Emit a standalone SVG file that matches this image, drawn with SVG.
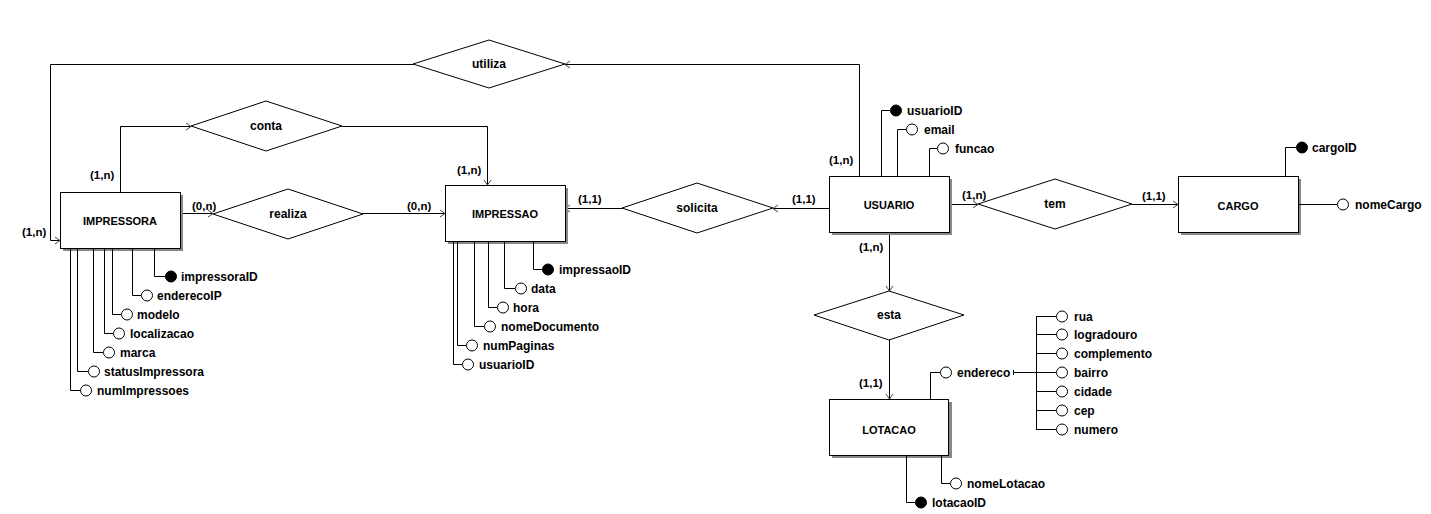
<svg xmlns="http://www.w3.org/2000/svg" width="1431" height="514" viewBox="0 0 1431 514">
<style>
text{font-family:"Liberation Sans",Arial,sans-serif;font-weight:bold;fill:#000}
.ent{font-size:11px;text-anchor:middle}
.rel{font-size:12px;text-anchor:middle}
.att{font-size:12px}
.card{font-size:11.5px}
.box{fill:#fff;stroke:#000;stroke-width:1}
.shadow{fill:#888}
.dia{fill:#fff;stroke:#000;stroke-width:1}
.ln{fill:none;stroke:#000;stroke-width:1}
.ao{fill:#fff;stroke:#000;stroke-width:1}
.ak{fill:#000;stroke:#000;stroke-width:1}
</style>
<defs>
<marker id="arr" markerUnits="userSpaceOnUse" markerWidth="10" markerHeight="10" viewBox="-6 -5 8 10" refX="0" refY="0" orient="auto">
<path d="M-5,-3.5 L0,0 L-5,3.5" fill="none" stroke="#444" stroke-width="1"/>
</marker>
</defs>
<rect width="1431" height="514" fill="#fff"/>

<g id="connectors">
<!-- utiliza -->
<polyline class="ln" points="413.5,64.5 50.5,64.5 50.5,240.5 60,240.5" marker-end="url(#arr)"/>
<polyline class="ln" points="859.5,176 859.5,64.5 565,64.5" marker-end="url(#arr)"/>
<!-- conta -->
<polyline class="ln" points="120.5,192 120.5,126.5 191,126.5" marker-end="url(#arr)"/>
<polyline class="ln" points="342,126.5 487.5,126.5 487.5,185" marker-end="url(#arr)"/>
<!-- realiza -->
<line class="ln" x1="180" y1="213.5" x2="213" y2="213.5" marker-end="url(#arr)"/>
<line class="ln" x1="363" y1="213.5" x2="445" y2="213.5" marker-end="url(#arr)"/>
<!-- solicita -->
<line class="ln" x1="829" y1="208.5" x2="773" y2="208.5" marker-end="url(#arr)"/>
<line class="ln" x1="622" y1="208.5" x2="565" y2="208.5" marker-end="url(#arr)"/>
<!-- tem -->
<line class="ln" x1="949" y1="204.5" x2="978" y2="204.5" marker-end="url(#arr)"/>
<line class="ln" x1="1132" y1="204.5" x2="1178" y2="204.5" marker-end="url(#arr)"/>
<!-- esta -->
<line class="ln" x1="889.5" y1="233" x2="889.5" y2="291" marker-end="url(#arr)"/>
<line class="ln" x1="889.5" y1="340" x2="889.5" y2="399" marker-end="url(#arr)"/>
</g>

<g id="cardinalities">
<text class="card" x="90" y="179">(1,n)</text>
<text class="card" x="22" y="236">(1,n)</text>
<text class="card" x="192" y="210">(0,n)</text>
<text class="card" x="407" y="210">(0,n)</text>
<text class="card" x="457" y="174">(1,n)</text>
<text class="card" x="578" y="203">(1,1)</text>
<text class="card" x="792" y="203">(1,1)</text>
<text class="card" x="829" y="164">(1,n)</text>
<text class="card" x="962" y="199">(1,n)</text>
<text class="card" x="1142" y="200">(1,1)</text>
<text class="card" x="859" y="251">(1,n)</text>
<text class="card" x="859" y="387">(1,1)</text>
</g>

<g id="rel-utiliza">
<polygon class="dia" points="413,64 489,40 565,64 489,88"/>
<text class="rel" x="489" y="68">utiliza</text>
</g>
<g id="rel-conta">
<polygon class="dia" points="191,126 266,101 342,126 266,151"/>
<text class="rel" x="266" y="130">conta</text>
</g>
<g id="rel-realiza">
<polygon class="dia" points="213,214 288,189 363,214 288,239"/>
<text class="rel" x="288" y="218">realiza</text>
</g>
<g id="rel-solicita">
<polygon class="dia" points="622,208 697,183 773,208 697,233"/>
<text class="rel" x="697" y="212">solicita</text>
</g>
<g id="rel-tem">
<polygon class="dia" points="978,204 1055,179 1132,204 1055,229"/>
<text class="rel" x="1055" y="208">tem</text>
</g>
<g id="rel-esta">
<polygon class="dia" points="814,315 889,291 964,315 889,340"/>
<text class="rel" x="889" y="319">esta</text>
</g>

<g id="IMPRESSORA">
<rect class="shadow" x="63" y="195" width="120" height="56"/>
<rect class="box" x="60.5" y="192.5" width="120" height="56"/>
<text class="ent" x="120" y="225">IMPRESSORA</text>
<polyline class="ln" points="154.5,249 154.5,276.5 165,276.5"/>
<circle class="ak" cx="171" cy="276.5" r="5.5"/>
<text class="att" x="181" y="281">impressoraID</text>
<polyline class="ln" points="132.5,249 132.5,295.5 141,295.5"/>
<circle class="ao" cx="147" cy="295.5" r="5.5"/>
<text class="att" x="157" y="300">enderecoIP</text>
<polyline class="ln" points="112.5,249 112.5,314.5 121,314.5"/>
<circle class="ao" cx="127" cy="314.5" r="5.5"/>
<text class="att" x="137" y="319">modelo</text>
<polyline class="ln" points="104.5,249 104.5,333.5 113,333.5"/>
<circle class="ao" cx="119" cy="333.5" r="5.5"/>
<text class="att" x="130" y="338">localizacao</text>
<polyline class="ln" points="93.5,249 93.5,352.5 103,352.5"/>
<circle class="ao" cx="109" cy="352.5" r="5.5"/>
<text class="att" x="120" y="357">marca</text>
<polyline class="ln" points="77.5,249 77.5,371.5 88,371.5"/>
<circle class="ao" cx="94" cy="371.5" r="5.5"/>
<text class="att" x="104" y="376">statusImpressora</text>
<polyline class="ln" points="70.5,249 70.5,390.5 80,390.5"/>
<circle class="ao" cx="86" cy="390.5" r="5.5"/>
<text class="att" x="97" y="395">numImpressoes</text>
</g>

<g id="IMPRESSAO">
<rect class="shadow" x="448" y="188" width="120" height="56"/>
<rect class="box" x="445.5" y="185.5" width="120" height="56"/>
<text class="ent" x="505" y="218">IMPRESSAO</text>
<polyline class="ln" points="533.5,242 533.5,269.5 542,269.5"/>
<circle class="ak" cx="548" cy="269.5" r="5.5"/>
<text class="att" x="559" y="274">impressaoID</text>
<polyline class="ln" points="504.5,242 504.5,288.5 515,288.5"/>
<circle class="ao" cx="521" cy="288.5" r="5.5"/>
<text class="att" x="531" y="293">data</text>
<polyline class="ln" points="488.5,242 488.5,307.5 497,307.5"/>
<circle class="ao" cx="503" cy="307.5" r="5.5"/>
<text class="att" x="513" y="312">hora</text>
<polyline class="ln" points="474.5,242 474.5,326.5 484,326.5"/>
<circle class="ao" cx="490" cy="326.5" r="5.5"/>
<text class="att" x="501" y="331">nomeDocumento</text>
<polyline class="ln" points="457.5,242 457.5,345.5 466,345.5"/>
<circle class="ao" cx="472" cy="345.5" r="5.5"/>
<text class="att" x="483" y="350">numPaginas</text>
<polyline class="ln" points="453.5,242 453.5,364.5 462,364.5"/>
<circle class="ao" cx="468" cy="364.5" r="5.5"/>
<text class="att" x="479" y="369">usuarioID</text>
</g>

<g id="USUARIO">
<rect class="shadow" x="832" y="179" width="120" height="56"/>
<rect class="box" x="829.5" y="176.5" width="120" height="56"/>
<text class="ent" x="889" y="209">USUARIO</text>
<polyline class="ln" points="881.5,176 881.5,110.5 890,110.5"/>
<circle class="ak" cx="896" cy="110.5" r="5.5"/>
<text class="att" x="907" y="115">usuarioID</text>
<polyline class="ln" points="897.5,176 897.5,129.5 906,129.5"/>
<circle class="ao" cx="912" cy="129.5" r="5.5"/>
<text class="att" x="924" y="134">email</text>
<polyline class="ln" points="929.5,176 929.5,148.5 937,148.5"/>
<circle class="ao" cx="943" cy="148.5" r="5.5"/>
<text class="att" x="955" y="153">funcao</text>
</g>

<g id="CARGO">
<rect class="shadow" x="1181" y="179" width="120" height="56"/>
<rect class="box" x="1178.5" y="176.5" width="120" height="56"/>
<text class="ent" x="1238" y="210">CARGO</text>
<polyline class="ln" points="1285.5,176 1285.5,147.5 1296,147.5"/>
<circle class="ak" cx="1302" cy="147.5" r="5.5"/>
<text class="att" x="1312" y="152">cargoID</text>
<line class="ln" x1="1299" y1="204.5" x2="1337" y2="204.5"/>
<circle class="ao" cx="1343" cy="204.5" r="5.5"/>
<text class="att" x="1355" y="209">nomeCargo</text>
</g>

<g id="LOTACAO">
<rect class="shadow" x="832" y="402" width="120" height="56"/>
<rect class="box" x="829.5" y="399.5" width="119" height="56"/>
<text class="ent" x="889" y="434">LOTACAO</text>
<polyline class="ln" points="930.5,399 930.5,372.5 940,372.5"/>
<circle class="ao" cx="946" cy="372.5" r="5.5"/>
<text class="att" x="957" y="377">endereco</text>
<line class="ln" x1="1013.5" y1="370" x2="1013.5" y2="375"/>
<line class="ln" x1="1013" y1="372.5" x2="1036" y2="372.5"/>
<line class="ln" x1="1036.5" y1="316" x2="1036.5" y2="429"/>
<line class="ln" x1="1036" y1="316.5" x2="1056" y2="316.5"/>
<circle class="ao" cx="1062" cy="316.5" r="5.5"/>
<text class="att" x="1074" y="321">rua</text>
<line class="ln" x1="1036" y1="334.5" x2="1056" y2="334.5"/>
<circle class="ao" cx="1062" cy="334.5" r="5.5"/>
<text class="att" x="1074" y="339">logradouro</text>
<line class="ln" x1="1036" y1="353.5" x2="1056" y2="353.5"/>
<circle class="ao" cx="1062" cy="353.5" r="5.5"/>
<text class="att" x="1074" y="358">complemento</text>
<line class="ln" x1="1036" y1="372.5" x2="1056" y2="372.5"/>
<circle class="ao" cx="1062" cy="372.5" r="5.5"/>
<text class="att" x="1074" y="377">bairro</text>
<line class="ln" x1="1036" y1="391.5" x2="1056" y2="391.5"/>
<circle class="ao" cx="1062" cy="391.5" r="5.5"/>
<text class="att" x="1074" y="396">cidade</text>
<line class="ln" x1="1036" y1="410.5" x2="1056" y2="410.5"/>
<circle class="ao" cx="1062" cy="410.5" r="5.5"/>
<text class="att" x="1074" y="415">cep</text>
<line class="ln" x1="1036" y1="429.5" x2="1056" y2="429.5"/>
<circle class="ao" cx="1062" cy="429.5" r="5.5"/>
<text class="att" x="1074" y="434">numero</text>
<polyline class="ln" points="941.5,456 941.5,483.5 950,483.5"/>
<circle class="ao" cx="956" cy="483.5" r="5.5"/>
<text class="att" x="967" y="488">nomeLotacao</text>
<polyline class="ln" points="906.5,456 906.5,502.5 915,502.5"/>
<circle class="ak" cx="921" cy="502.5" r="5.5"/>
<text class="att" x="932" y="507">lotacaoID</text>
</g>
</svg>
